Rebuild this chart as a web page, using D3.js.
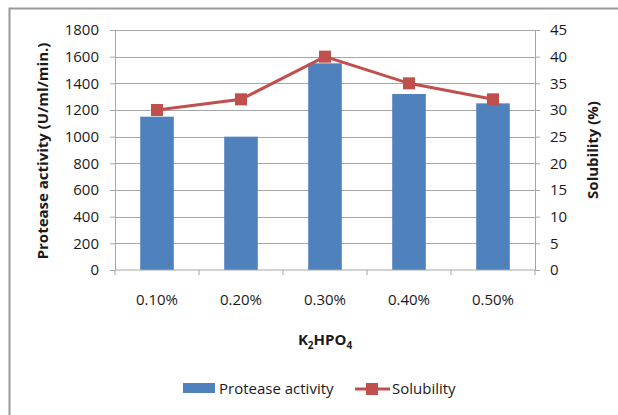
<!DOCTYPE html>
<html>
<head>
<meta charset="utf-8">
<script src="https://cdn.jsdelivr.net/npm/d3@7"></script>
<style>
  body { margin: 0; background: #fff; }
  text { font-family: "Open Sans", "Noto Sans", sans-serif; fill: #1a1a1a; }
</style>
</head>
<body>
<svg id="chart" width="618" height="415"></svg>
<script>
var categories = ['0.10%', '0.20%', '0.30%', '0.40%', '0.50%'];
var proteaseActivity = [1150, 1000, 1550, 1320, 1250];
var solubility = [30, 32, 40, 35, 32];
var leftTicks = [0, 200, 400, 600, 800, 1000, 1200, 1400, 1600, 1800];
var rightTicks = [0, 5, 10, 15, 20, 25, 30, 35, 40, 45];

var barColor = '#4f81bd';
var lineColor = '#c0504d';
var gridColor = '#a6a6a6';

var plotLeft = 115, plotRight = 535, plotTop = 30, plotBottom = 270;

var svg = d3.select('#chart');

// chart frame (only left and top edges visible)
svg.append('path')
  .attr('d', 'M9.5,415 L9.5,8.5 L618,8.5')
  .attr('fill', 'none')
  .attr('stroke', '#9a9a9a')
  .attr('stroke-width', 2);

var x = d3.scaleBand().domain(categories).range([plotLeft, plotRight]).paddingInner(0.6).paddingOuter(0.3);
var xOuter = d3.scaleBand().domain(categories).range([plotLeft, plotRight]);
var yLeft = d3.scaleLinear().domain([0, 1800]).range([plotBottom, plotTop]);
var yRight = d3.scaleLinear().domain([0, 45]).range([plotBottom, plotTop]);

// gridlines
svg.append('g').selectAll('line')
  .data(leftTicks.slice(1))
  .enter().append('line')
  .attr('x1', plotLeft).attr('x2', plotRight)
  .attr('y1', function (d) { return Math.round(yLeft(d)) + 0.5; })
  .attr('y2', function (d) { return Math.round(yLeft(d)) + 0.5; })
  .attr('stroke', gridColor)
  .attr('stroke-width', 1);

// bars
svg.append('g').selectAll('rect')
  .data(proteaseActivity)
  .enter().append('rect')
  .attr('x', function (d, i) { return x(categories[i]); })
  .attr('width', x.bandwidth())
  .attr('y', function (d) { return yLeft(d); })
  .attr('height', function (d) { return plotBottom - yLeft(d); })
  .attr('fill', barColor);

// left axis
var leftAxis = svg.append('g')
  .attr('transform', 'translate(' + plotLeft + ',0)')
  .call(d3.axisLeft(yLeft).tickValues(leftTicks).tickFormat(d3.format('d')).tickSize(5).tickPadding(11));

// right axis
var rightAxis = svg.append('g')
  .attr('transform', 'translate(' + plotRight + ',0)')
  .call(d3.axisRight(yRight).tickValues(rightTicks).tickFormat(d3.format('d')).tickSize(5).tickPadding(10));

// bottom axis with ticks between categories
var bottomAxis = svg.append('g')
  .attr('transform', 'translate(0,' + plotBottom + ')');
bottomAxis.append('line')
  .attr('x1', plotLeft).attr('x2', plotRight)
  .attr('stroke', gridColor);
bottomAxis.selectAll('.cat-tick')
  .data(d3.range(categories.length + 1))
  .enter().append('line')
  .attr('class', 'cat-tick')
  .attr('x1', function (i) { return plotLeft + i * xOuter.step(); })
  .attr('x2', function (i) { return plotLeft + i * xOuter.step(); })
  .attr('y1', 0).attr('y2', 5)
  .attr('stroke', gridColor);
bottomAxis.selectAll('.cat-label')
  .data(categories)
  .enter().append('text')
  .attr('class', 'cat-label')
  .attr('x', function (d) { return xOuter(d) + xOuter.bandwidth() / 2; })
  .attr('y', 35)
  .attr('text-anchor', 'middle')
  .attr('font-size', 15)
  .text(function (d) { return d; });

[leftAxis, rightAxis].forEach(function (ax) {
  ax.select('.domain').attr('stroke', gridColor);
  ax.selectAll('.tick line').attr('stroke', gridColor);
  ax.selectAll('.tick text').attr('font-size', 15).attr('fill', '#1a1a1a')
    .attr('font-family', '"Open Sans", "Noto Sans", sans-serif');
});

// solubility line
var lineGen = d3.line()
  .x(function (d, i) { return xOuter(categories[i]) + xOuter.bandwidth() / 2; })
  .y(function (d) { return yRight(d); });

svg.append('path')
  .datum(solubility)
  .attr('d', lineGen)
  .attr('fill', 'none')
  .attr('stroke', lineColor)
  .attr('stroke-width', 3);

svg.append('g').selectAll('rect')
  .data(solubility)
  .enter().append('rect')
  .attr('x', function (d, i) { return xOuter(categories[i]) + xOuter.bandwidth() / 2 - 6; })
  .attr('y', function (d) { return yRight(d) - 6; })
  .attr('width', 12).attr('height', 12)
  .attr('fill', lineColor);

// axis titles
svg.append('text')
  .attr('transform', 'translate(48,151) rotate(-90)')
  .attr('text-anchor', 'middle')
  .attr('font-size', 15)
  .attr('font-weight', 'bold')
  .text('Protease activity (U/ml/min.)');

svg.append('text')
  .attr('transform', 'translate(598,150) rotate(-90)')
  .attr('text-anchor', 'middle')
  .attr('font-size', 15)
  .attr('font-weight', 'bold')
  .text('Solubility (%)');

var xTitle = svg.append('text')
  .attr('x', 325).attr('y', 345)
  .attr('text-anchor', 'middle')
  .attr('font-size', 15)
  .attr('font-weight', 'bold');
xTitle.append('tspan').text('K');
xTitle.append('tspan').attr('font-size', 10).attr('dy', 4).text('2');
xTitle.append('tspan').attr('dy', -4).text('HPO');
xTitle.append('tspan').attr('font-size', 10).attr('dy', 4).text('4');

// legend
var legend = svg.append('g');
legend.append('rect')
  .attr('x', 183).attr('y', 383)
  .attr('width', 32).attr('height', 10)
  .attr('fill', barColor);
legend.append('text')
  .attr('x', 219).attr('y', 394)
  .attr('font-size', 15)
  .text('Protease activity');
legend.append('line')
  .attr('x1', 355).attr('x2', 390)
  .attr('y1', 389).attr('y2', 389)
  .attr('stroke', lineColor).attr('stroke-width', 3);
legend.append('rect')
  .attr('x', 366).attr('y', 383)
  .attr('width', 12).attr('height', 12)
  .attr('fill', lineColor);
legend.append('text')
  .attr('x', 392).attr('y', 394)
  .attr('font-size', 15)
  .text('Solubility');
</script>
</body>
</html>
